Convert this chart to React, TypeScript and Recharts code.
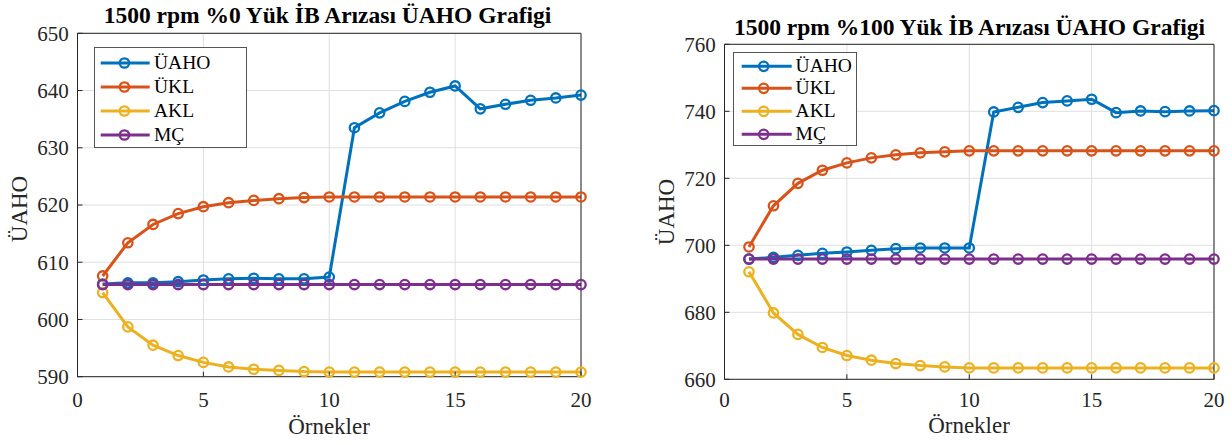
import React from 'react';
import { LineChart, Line, XAxis, YAxis, CartesianGrid, Legend } from 'recharts';

// ---------- data ----------
const samples = [1, 2, 3, 4, 5, 6, 7, 8, 9, 10, 11, 12, 13, 14, 15, 16, 17, 18, 19, 20];
const seriesNames = ['ÜAHO', 'ÜKL', 'AKL', 'MÇ'];
const seriesKeys = ['uaho', 'ukl', 'akl', 'mc'];
const seriesColors = ['#0072BD', '#D95319', '#EDB120', '#7E2F8E'];

const xTicks = [0, 5, 10, 15, 20];

// 1500 rpm %0 load
const uaho0 = [606.2, 606.4, 606.4, 606.6, 606.9, 607.1, 607.2, 607.1, 607.1, 607.4, 633.5, 636.1, 638.1, 639.7, 640.8, 636.8, 637.6, 638.3, 638.7, 639.2];
const ukl0 = [607.6, 613.4, 616.6, 618.5, 619.7, 620.4, 620.8, 621.1, 621.3, 621.4, 621.4, 621.4, 621.4, 621.4, 621.4, 621.4, 621.4, 621.4, 621.4, 621.4];
const akl0 = [604.7, 598.7, 595.5, 593.7, 592.5, 591.7, 591.3, 591.1, 590.9, 590.8, 590.8, 590.8, 590.8, 590.8, 590.8, 590.8, 590.8, 590.8, 590.8, 590.8];
const mc0 = [606.1, 606.1, 606.1, 606.1, 606.1, 606.1, 606.1, 606.1, 606.1, 606.1, 606.1, 606.1, 606.1, 606.1, 606.1, 606.1, 606.1, 606.1, 606.1, 606.1];
const yTicks0 = [590, 600, 610, 620, 630, 640, 650];

// 1500 rpm %100 load
const uaho100 = [695.9, 696.4, 697.0, 697.6, 698.0, 698.5, 699.0, 699.2, 699.2, 699.2, 739.8, 741.2, 742.6, 743.1, 743.6, 739.6, 740.1, 739.9, 740.1, 740.2];
const ukl100 = [699.5, 711.8, 718.5, 722.4, 724.6, 726.1, 727.0, 727.6, 727.9, 728.2, 728.2, 728.2, 728.2, 728.2, 728.2, 728.2, 728.2, 728.2, 728.2, 728.2];
const akl100 = [692.1, 679.8, 673.4, 669.5, 667.1, 665.7, 664.7, 664.1, 663.7, 663.4, 663.4, 663.4, 663.4, 663.4, 663.4, 663.4, 663.4, 663.4, 663.4, 663.4];
const mc100 = [695.9, 695.9, 695.9, 695.9, 695.9, 695.9, 695.9, 695.9, 695.9, 695.9, 695.9, 695.9, 695.9, 695.9, 695.9, 695.9, 695.9, 695.9, 695.9, 695.9];
const yTicks100 = [660, 680, 700, 720, 740, 760];

const title0 = '1500 rpm %0 Yük İB Arızası ÜAHO Grafigi';
const title100 = '1500 rpm %100 Yük İB Arızası ÜAHO Grafigi';
const xLabel = 'Örnekler';
const yLabel = 'ÜAHO';

const rows0 = samples.map((s, i) => ({ x: s, uaho: uaho0[i], ukl: ukl0[i], akl: akl0[i], mc: mc0[i] }));
const rows100 = samples.map((s, i) => ({ x: s, uaho: uaho100[i], ukl: ukl100[i], akl: akl100[i], mc: mc100[i] }));

// ---------- styling ----------
const FONT = '"Liberation Serif", "Times New Roman", serif';
const AX = '#262626';
const GRID = '#dfdfdf';
const LW = 3;
const MR = 4.7;
const MW = 2.3;

type LegendGeom = { left: number; top: number; w: number; h: number; padTop: number; rowH: number; lineX1: number; lineX2: number; cx: number; textX: number };

const makeLegend = (g: LegendGeom) => () => (
  <div
    style={{
      width: g.w,
      height: g.h,
      boxSizing: 'border-box',
      border: '1px solid #555',
      background: '#fff',
      position: 'relative',
      fontFamily: FONT,
    }}
  >
    {seriesNames.map((name, i) => (
      <div
        key={name}
        style={{ position: 'absolute', left: 0, top: g.padTop + i * g.rowH, height: g.rowH, width: g.w - 2 }}
      >
        <svg width={g.textX} height={g.rowH} style={{ position: 'absolute', left: 0, top: 0 }}>
          <line x1={g.lineX1} x2={g.lineX2} y1={g.rowH / 2} y2={g.rowH / 2} stroke={seriesColors[i]} strokeWidth={LW} />
          <circle cx={g.cx} cy={g.rowH / 2} r={MR} fill="none" stroke={seriesColors[i]} strokeWidth={MW} />
        </svg>
        <span
          style={{
            position: 'absolute',
            left: g.textX,
            top: 0,
            lineHeight: `${g.rowH}px`,
            fontSize: 19.5,
            color: '#000',
            whiteSpace: 'nowrap',
          }}
        >
          {name}
        </span>
      </div>
    ))}
  </div>
);

type PanelProps = {
  rows: any[];
  yDomain: [number, number];
  yTicks: number[];
  width: number;
  height: number;
  margin: { top: number; right: number; bottom: number; left: number };
  xTickMargin: number;
  legend: LegendGeom;
};

function Panel({ rows, yDomain, yTicks, width, height, margin, xTickMargin, legend }: PanelProps) {
  const tickStyle = { fontSize: 21, fontFamily: FONT, fill: AX };
  return (
    <LineChart width={width} height={height} data={rows} margin={margin} style={{ fontFamily: FONT }}>
      <CartesianGrid stroke={GRID} strokeWidth={1} />
      <XAxis
        dataKey="x"
        type="number"
        domain={[0, 20]}
        ticks={xTicks}
        stroke={AX}
        tickSize={-5}
        tickMargin={xTickMargin}
        tick={tickStyle}
        height={40}
        interval={0}
      />
      <XAxis
        xAxisId="top"
        orientation="top"
        dataKey="x"
        type="number"
        domain={[0, 20]}
        ticks={xTicks}
        stroke={AX}
        tickSize={-5}
        tick={false}
        height={1}
        interval={0}
      />
      <YAxis
        type="number"
        domain={yDomain}
        ticks={yTicks}
        stroke={AX}
        tickSize={-5}
        tickMargin={13.8}
        tick={tickStyle}
        width={60}
        interval={0}
      />
      <YAxis
        yAxisId="right"
        orientation="right"
        type="number"
        domain={yDomain}
        ticks={yTicks}
        stroke={AX}
        tickSize={-5}
        tick={false}
        width={1}
        interval={0}
      />
      <Legend
        layout="vertical"
        align="center"
        verticalAlign="middle"
        wrapperStyle={{ position: 'absolute', left: legend.left, top: legend.top, width: legend.w, height: legend.h }}
        content={makeLegend(legend)}
      />
      {seriesKeys.map((k, i) => (
        <Line
          key={k}
          type="linear"
          dataKey={k}
          name={seriesNames[i]}
          stroke={seriesColors[i]}
          strokeWidth={LW}
          dot={{ r: MR, strokeWidth: MW, fill: 'none', stroke: seriesColors[i] }}
          activeDot={false}
          isAnimationActive={false}
        />
      ))}
    </LineChart>
  );
}

export default function App() {
  return (
    <div
      style={{
        position: 'fixed',
        left: 0,
        top: 0,
        width: 1232,
        height: 445,
        background: '#fff',
        overflow: 'hidden',
        fontFamily: FONT,
      }}
    >
      <div style={{ position: 'absolute', left: 0, top: 0 }}>
        <Panel
          rows={rows0}
          yDomain={[590, 650]}
          yTicks={yTicks0}
          width={620}
          height={445}
          margin={{ top: 32.3, right: 38, bottom: 28.3, left: 17.5 }}
          xTickMargin={20}
          legend={{ left: 94.3, top: 47.3, w: 153, h: 101, padTop: 2.7, rowH: 24, lineX1: 5.7, lineX2: 54.7, cx: 29.4, textX: 58.7 }}
        />
      </div>
      <div style={{ position: 'absolute', left: 620, top: 0 }}>
        <Panel
          rows={rows100}
          yDomain={[660, 760]}
          yTicks={yTicks100}
          width={612}
          height={445}
          margin={{ top: 43.3, right: 17, bottom: 25.7, left: 44.5 }}
          xTickMargin={17.5}
          legend={{ left: 113.3, top: 52.3, w: 124, h: 94, padTop: 1.4, rowH: 22.7, lineX1: 7.7, lineX2: 57.7, cx: 29.7, textX: 61.3 }}
        />
      </div>
      <svg
        width={1232}
        height={445}
        style={{ position: 'absolute', left: 0, top: 0, pointerEvents: 'none', fontFamily: FONT }}
      >
        <text x={327.5} y={23.3} textAnchor="middle" fontSize={23.5} fontWeight="bold" fill="#000">
          {title0}
        </text>
        <text x={969.5} y={35} textAnchor="middle" fontSize={23.5} fontWeight="bold" fill="#000">
          {title100}
        </text>
        <text x={329} y={434} textAnchor="middle" fontSize={23} fill={AX}>
          {xLabel}
        </text>
        <text x={969} y={433} textAnchor="middle" fontSize={23} fill={AX}>
          {xLabel}
        </text>
        <text transform="translate(26.7,209) rotate(-90)" textAnchor="middle" fontSize={23} fill={AX}>
          {yLabel}
        </text>
        <text transform="translate(674,212) rotate(-90)" textAnchor="middle" fontSize={23} fill={AX}>
          {yLabel}
        </text>
      </svg>
    </div>
  );
}
